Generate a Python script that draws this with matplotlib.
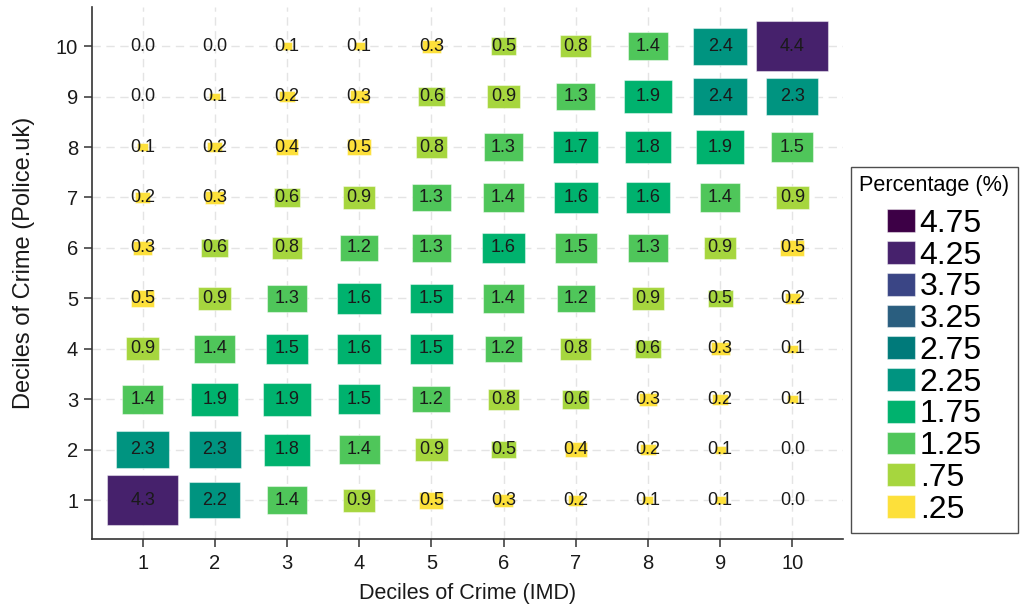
import numpy as np
import matplotlib
matplotlib.use("Agg")
import matplotlib.pyplot as plt
from matplotlib.patches import Patch

# Deciles on each axis
imd_deciles = list(range(1, 11))
police_deciles = list(range(1, 11))

# Percentage of areas in each (IMD decile, Police.uk decile) pair.
# Rows: Police.uk decile 1..10, columns: IMD decile 1..10
pct_police_1 = [4.30, 2.20, 1.40, 0.90, 0.48, 0.30, 0.20, 0.10, 0.10, 0.00]
pct_police_2 = [2.30, 2.30, 1.80, 1.40, 0.90, 0.52, 0.40, 0.20, 0.10, 0.00]
pct_police_3 = [1.40, 1.90, 1.90, 1.52, 1.20, 0.80, 0.60, 0.30, 0.20, 0.10]
pct_police_4 = [0.90, 1.40, 1.52, 1.60, 1.52, 1.20, 0.80, 0.60, 0.30, 0.10]
pct_police_5 = [0.47, 0.90, 1.30, 1.60, 1.52, 1.40, 1.20, 0.90, 0.52, 0.20]
pct_police_6 = [0.30, 0.60, 0.80, 1.20, 1.30, 1.60, 1.47, 1.30, 0.90, 0.48]
pct_police_7 = [0.20, 0.30, 0.60, 0.90, 1.30, 1.40, 1.60, 1.60, 1.40, 0.90]
pct_police_8 = [0.10, 0.20, 0.40, 0.48, 0.80, 1.30, 1.70, 1.80, 1.90, 1.47]
pct_police_9 = [0.00, 0.10, 0.20, 0.30, 0.60, 0.90, 1.30, 1.90, 2.40, 2.30]
pct_police_10 = [0.00, 0.00, 0.10, 0.10, 0.30, 0.52, 0.80, 1.40, 2.40, 4.40]

pct = np.array([pct_police_1, pct_police_2, pct_police_3, pct_police_4,
                pct_police_5, pct_police_6, pct_police_7, pct_police_8,
                pct_police_9, pct_police_10])

# Colour classes (0.5 wide), labelled by their midpoints
class_labels = [".25", ".75", "1.25", "1.75", "2.25", "2.75",
                "3.25", "3.75", "4.25", "4.75"]
class_colors = ["#fde03a", "#a6d63e", "#4fc65a", "#00b26e", "#009480",
                "#007a7a", "#2a5e7f", "#3a4585", "#46216c", "#3d0046"]
class_width = 0.5

plt.rcParams["font.family"] = ["Liberation Sans", "DejaVu Sans"]

fig = plt.figure(figsize=(10.26, 6.07), dpi=100)
ax = fig.add_axes([0.0897, 0.1120, 0.7318, 0.8760])

vmax = pct.max()
xs, ys, sides, cols = [], [], [], []
for i, yv in enumerate(police_deciles):
    for j, xv in enumerate(imd_deciles):
        v = pct[i, j]
        xs.append(xv)
        ys.append(yv)
        sides.append(np.sqrt(v / vmax))
        k = min(int(v // class_width), len(class_colors) - 1)
        cols.append(class_colors[k])

sides = np.array(sides)
ys = np.array(ys)
ax.bar(xs, sides, width=sides, bottom=ys - sides / 2, color=cols,
       edgecolor=(1, 1, 1, 0.45), linewidth=0.8, zorder=2)

for i, yv in enumerate(police_deciles):
    for j, xv in enumerate(imd_deciles):
        ax.text(xv, yv, f"{pct[i, j]:.1f}", ha="center", va="center",
                fontsize=13, color="#1a1a1a", zorder=3)

ax.set_xlim(0.3, 10.7)
ax.set_ylim(0.23, 10.77)
ax.set_xticks(imd_deciles)
ax.set_yticks(police_deciles)
ax.set_xticklabels([str(d) for d in imd_deciles], fontsize=14.5)
ax.set_yticklabels([str(d) for d in police_deciles], fontsize=14.5)
ax.tick_params(axis="both", direction="out", length=6, width=1.1,
               color="#333333", labelcolor="#1a1a1a")
ax.tick_params(axis="y", pad=4)
ax.tick_params(axis="x", pad=5)

ax.set_axisbelow(True)
ax.grid(True, color="#e4e4e4", linestyle=(0, (6, 4)), linewidth=1.0, zorder=0)

for s in ["top", "right"]:
    ax.spines[s].set_visible(False)
for s in ["left", "bottom"]:
    ax.spines[s].set_color("#333333")
    ax.spines[s].set_linewidth(1.2)

ax.set_xlabel("Deciles of Crime (IMD)", fontsize=15.5, color="#1a1a1a",
              labelpad=7)
ax.set_ylabel("Deciles of Crime (Police.uk)", fontsize=17, color="#1a1a1a",
              labelpad=15)
ax.yaxis.label.set_y(0.52)

handles = [Patch(facecolor=c, edgecolor=(1, 1, 1, 0.45), linewidth=0.8)
           for c in class_colors[::-1]]
leg = fig.legend(handles, class_labels[::-1], loc="upper left",
                 bbox_to_anchor=(851 / 1026, 1 - 167 / 607), frameon=True,
                 fancybox=False, edgecolor="#222222", fontsize=23,
                 title="Percentage (%)", title_fontsize=15.6,
                 handlelength=0.88, handleheight=0.72, handletextpad=0.15,
                 labelspacing=0.055, borderpad=0.26, borderaxespad=0)
leg.get_frame().set_linewidth(1.0)
# extra gap between the legend title and the colour keys
try:
    leg._legend_box.sep = 9.0
except AttributeError:
    pass

fig.savefig("out.png", dpi=100)
